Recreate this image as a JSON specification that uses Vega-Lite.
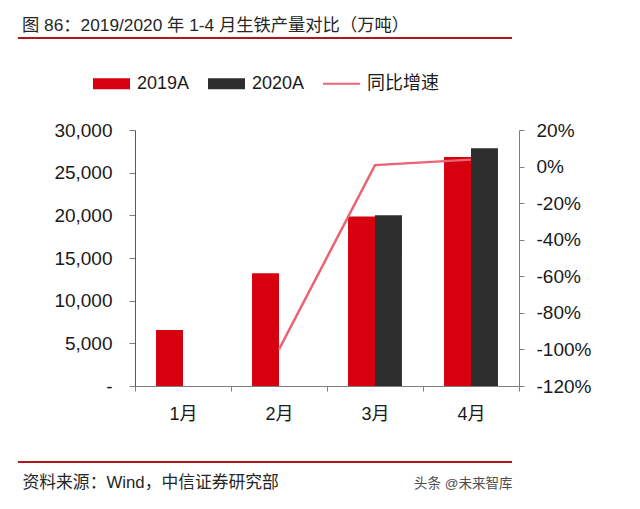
{
  "$schema": "https://vega.github.io/schema/vega-lite/v6.json",
  "width": 384,
  "height": 256,
  "autosize": "none",
  "padding": {"left": 135, "top": 130, "right": 121, "bottom": 123},
  "background": "white",
  "config": {
    "font": "Liberation Sans, Noto Sans CJK SC",
    "view": {"stroke": null},
    "axis": {"labelColor": "#1a1a1a", "grid": false}
  },
  "title": {
    "text": "图 86：2019/2020 年 1-4 月生铁产量对比（万吨）",
    "anchor": "start",
    "frame": "group",
    "dx": -113,
    "offset": 3,
    "fontSize": 17.3,
    "fontWeight": "normal",
    "color": "#262626"
  },
  "datasets": {
    "output": [
      {"month": "1月", "series": "2019A", "value": 6560},
      {"month": "2月", "series": "2019A", "value": 13200},
      {"month": "3月", "series": "2019A", "value": 19850},
      {"month": "3月", "series": "2020A", "value": 20000},
      {"month": "4月", "series": "2019A", "value": 26840},
      {"month": "4月", "series": "2020A", "value": 27850}
    ],
    "growth": [
      {"month": "2月", "pct": -100},
      {"month": "3月", "pct": 0.8},
      {"month": "4月", "pct": 3.8}
    ]
  },
  "layer": [
    {
      "data": {"name": "output"},
      "mark": {"type": "bar"},
      "encoding": {
        "x": {
          "field": "month",
          "type": "nominal",
          "sort": ["1月", "2月", "3月", "4月"],
          "scale": {"domain": ["1月", "2月", "3月", "4月"], "paddingInner": 0, "paddingOuter": 0},
          "axis": {
            "title": "资料来源：Wind，中信证券研究部",
            "titleX": -113,
            "titleY": 96,
            "titleAlign": "left",
            "titleBaseline": "middle",
            "titleFontSize": 16.8,
            "titleFontWeight": "normal",
            "titleColor": "#262626",
            "labelAngle": 0,
            "labelFontSize": 18,
            "labelPadding": 14,
            "tickBand": "extent",
            "tickSize": 5,
            "tickColor": "#7f7f7f",
            "domainColor": "#7f7f7f"
          }
        },
        "xOffset": {
          "field": "series",
          "type": "nominal",
          "scale": {"domain": ["2019A", "2020A"], "paddingInner": 0, "paddingOuter": 0.78}
        },
        "y": {
          "field": "value",
          "type": "quantitative",
          "scale": {"domain": [0, 30000], "nice": false},
          "axis": {
            "orient": "left",
            "title": null,
            "values": [0, 5000, 10000, 15000, 20000, 25000, 30000],
            "labelExpr": "datum.value === 0 ? '-\u00a0\u00a0\u00a0' : format(datum.value, ',.0f')",
            "labelFontSize": 19,
            "labelPadding": 17,
            "tickSize": 6,
            "tickColor": "#7f7f7f",
            "domainColor": "#595959"
          }
        },
        "color": {
          "field": "series",
          "type": "nominal",
          "scale": {
            "domain": ["2019A", "2020A", "同比增速"],
            "range": ["#d7000f", "#2e2e2e", "#ea6473"]
          },
          "legend": {
            "title": null,
            "orient": "none",
            "legendX": -42,
            "legendY": -65,
            "direction": "horizontal",
            "labelFontSize": 18,
            "labelColor": "#1a1a1a",
            "labelOffset": 7,
            "columnPadding": 18,
            "symbolSize": 1369,
            "symbolStrokeWidth": 0,
            "encode": {
              "symbols": {
                "update": {
                  "shape": {"signal": "datum.value === '同比增速' ? 'M-1,-0.05H1V0.05H-1Z' : 'M-1,-0.3H1V0.3H-1Z'"},
                  "fill": {"scale": "color", "field": "value"},
                  "opacity": {"value": 1},
                  "fillOpacity": {"value": 1}
                }
              }
            }
          }
        }
      }
    },
    {
      "data": {"name": "growth"},
      "mark": {"type": "line", "strokeWidth": 2.5},
      "encoding": {
        "x": {"field": "month", "type": "nominal", "sort": ["1月", "2月", "3月", "4月"]},
        "y": {
          "field": "pct",
          "type": "quantitative",
          "scale": {"domain": [-120, 20], "nice": false},
          "axis": {
            "orient": "right",
            "title": "头条 @未来智库",
            "titleAngle": 0,
            "titleX": -7,
            "titleY": 353,
            "titleAlign": "right",
            "titleBaseline": "middle",
            "titleFontSize": 13.5,
            "titleFontWeight": "normal",
            "titleColor": "#4d4d4d",
            "values": [-120, -100, -80, -60, -40, -20, 0, 20],
            "labelExpr": "datum.value + '%'",
            "labelFontSize": 19,
            "labelPadding": 12,
            "tickSize": 5,
            "tickColor": "#7f7f7f",
            "domainColor": "#7f7f7f"
          }
        },
        "color": {"datum": "同比增速"}
      }
    },
    {
      "data": {"values": [{}]},
      "mark": {"type": "rule", "color": "#b3151e", "strokeWidth": 2},
      "encoding": {"x": {"value": -117}, "x2": {"value": 377}, "y": {"value": -92}}
    },
    {
      "data": {"values": [{}]},
      "mark": {"type": "rule", "color": "#b3151e", "strokeWidth": 2},
      "encoding": {"x": {"value": -117}, "x2": {"value": 377}, "y": {"value": 332}}
    }
  ],
  "resolve": {"scale": {"y": "independent"}}
}
